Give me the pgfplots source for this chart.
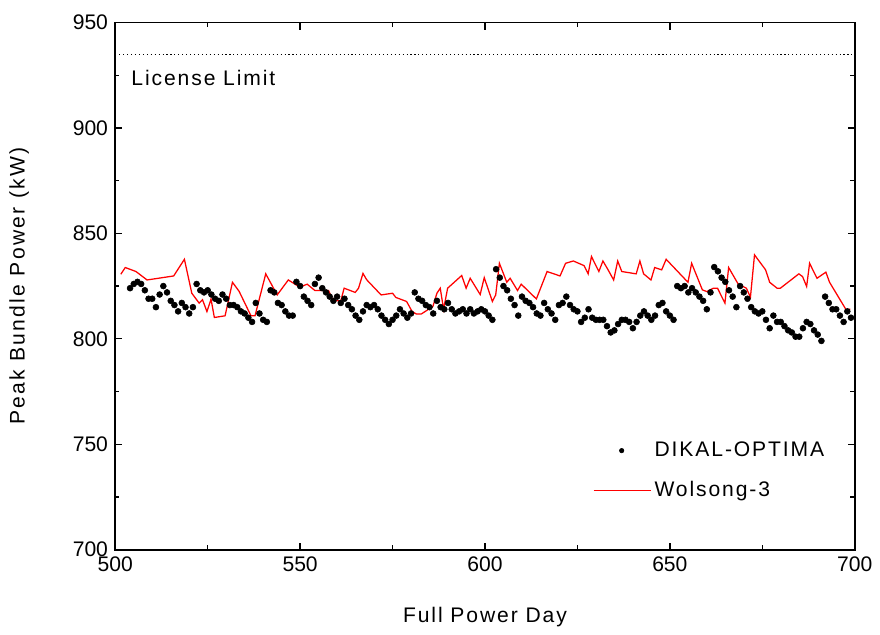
\documentclass[border=0pt]{standalone}
\usepackage{fontspec}
\setmainfont{Liberation Sans}
\newfontfamily\lbl[LetterSpace=9]{Liberation Sans}
\newfontfamily\ylbl[LetterSpace=11]{Liberation Sans}
\usepackage{pgfplots}
\usepackage{pgfplotstable}
\pgfplotsset{compat=1.18}
\pgfplotsset{
  longline/.style={legend image code/.code={\draw[##1, draw=red, line width=0.8pt] (0pt,0pt) -- (41pt,0pt);}},
  dotimg/.style={legend image code/.code={\fill[black] (20pt,0pt) circle (1.6pt);}},
}

% DIKAL-OPTIMA points
\pgfplotstableread{
day kw
504 824
505 826
506 827
507 826
508 823
509 819
510 819
511 815
512 821
513 825
514 822
515 818
516 816
517 813
518 817
519 815
520 812
521 815
522 826
523 823
524 822
525 823
526 821
527 819
528 818
529 821
530 819
531 816
532 816
533 815
534 813
535 812
536 810
537 808
538 817
539 812
540 809
541 808
542 823
543 822
544 817
545 816
546 813
547 811
548 811
549 827
550 825
551 820
552 818
553 816
554 826
555 829
556 824
557 822
558 820
559 818
560 820
561 817
562 819
563 816
564 814
565 811
566 809
567 813
568 816
569 815
570 816
571 814
572 811
573 809
574 807
575 809
576 811
577 814
578 812
579 810
580 812
581 822
582 819
583 818
584 816
585 815
586 812
587 818
588 815
589 814
590 817
591 814
592 812
593 813
594 814
595 812
596 814
597 812
598 813
599 814
600 813
601 811
602 809
603 833
604 829
605 825
606 823
607 819
608 816
609 811
610 820
611 818
612 817
613 815
614 812
615 811
616 817
617 814
618 812
619 809
620 816
621 817
622 820
623 816
624 814
625 813
626 808
627 810
628 814
629 810
630 809
631 809
632 809
633 806
634 803
635 804
636 807
637 809
638 809
639 808
640 805
641 808
642 811
643 813
644 811
645 809
646 811
647 816
648 817
649 813
650 811
651 809
652 825
653 824
654 825
655 822
656 824
657 822
658 820
659 818
660 814
661 822
662 834
663 832
664 829
665 827
666 823
667 820
668 815
669 825
670 822
671 819
672 815
673 813
674 812
675 813
676 809
677 805
678 811
679 808
680 808
681 806
682 804
683 803
684 801
685 801
686 805
687 808
688 807
689 804
690 802
691 799
692 820
693 817
694 814
695 814
696 811
697 808
698 813
699 810
}\dikal

\begin{document}
\fontsize{15}{18}\selectfont
\begin{tikzpicture}
\begin{axis}[
  scale only axis,
  width=526pt, height=375pt,
  xmin=500, xmax=700, ymin=700, ymax=950,
  xtick={500,550,...,700}, ytick={700,750,...,950},
  minor tick num=1,
  tick align=inside,
  major tick length=5pt, minor tick length=3pt,
  axis line style={line width=1.2pt},
  every tick/.style={black, line width=1pt},
  tick label style={font=\fontsize{15}{18}\selectfont},
  /pgf/number format/assume math mode=true,
  /pgf/number format/1000 sep={},
  xlabel={\lbl Full Power Day},
  ylabel={\ylbl Peak Bundle Power (kW)},
  xlabel style={at={(axis description cs:0.5,-0.127)}, anchor=center},
  ylabel style={at={(axis description cs:-0.13,0.5)}, anchor=center},
  legend cell align=left,
  legend style={draw=none, fill=none, at={(axis description cs:0.64,0.216)},
    anchor=north west, row sep=11.5pt, font=\lbl},
]
\addplot[only marks, mark=*, mark size=2.1pt, black, dotimg]
  table[x=day, y=kw] {\dikal};
\addlegendentry{DIKAL-OPTIMA}
\addplot[red, line width=0.9pt, mark=none, longline]
  coordinates {
(501.5,830.6) (502.7,833.8) (505.6,831.9) (508.6,827.9) (515.8,829.8)
(518.7,837.7) (520.7,821.6) (522.7,816.9) (523.6,818.5) (524.8,812.9)
(525.9,818.8) (526.8,810.1) (529.7,810.9) (531.7,826.8) (533.5,822.5)
(536.7,810.9) (537.8,810.9) (540.7,830.8) (543.8,820.8) (546.8,827.9)
(549.9,824.5) (551.9,825.9) (554.0,822.9) (557.7,822.9) (558.9,818)
(561.0,818) (561.9,824.0) (564.9,822) (565.8,824.0) (567.0,831)
(568.0,828) (571.9,820.8) (575.0,821.6) (575.9,819.6) (578.8,817.7)
(580.3,812.9) (581.4,811.8) (582.8,811.8) (585.9,815.3) (587.0,821.6)
(587.9,824.0) (588.8,814) (589.9,824.0) (593.7,830) (594.9,824)
(596.0,828.7) (598.7,821) (599.8,829) (602.0,817.7) (602.9,820.8)
(603.9,835.8) (605.9,826.8) (606.8,828.7) (608.8,822.9) (609.8,825.9)
(613.9,818.9) (616.8,831.9) (620.3,829.8) (621.8,835.8) (623.9,836.9)
(626.8,834.7) (627.9,830.8) (628.8,839.0) (630.8,831.9) (631.9,836.9)
(633.2,833) (634.8,827.9) (635.9,836.9) (637.0,831.9) (640.9,830.8)
(641.9,836.9) (642.9,830.8) (644.9,827.9) (645.9,833.8) (647.8,832.7)
(649.0,837.7) (654.9,826.8) (655.9,835.8) (658.8,823.2) (660.0,822.4)
(661.8,824.0) (662.9,824.0) (664.9,816.9) (665.9,833.8) (668.5,825.9)
(670.7,824.0) (671.8,819.7) (672.9,839.8) (675.9,832.7) (677.0,826.8)
(679.0,824.0) (679.9,824.0) (684.9,830.8) (685.9,829.5) (687.0,824.8)
(687.8,835.8) (689.8,828.7) (692.2,831.6) (693.2,826.8) (697.7,813.7)
(698.8,814.1)
  };
\addlegendentry{Wolsong-3}
\addplot[black, dotted, line width=0.8pt, forget plot] coordinates {(500,935) (700,935)};
\node[anchor=west, inner sep=0pt, font=\lbl] at (axis cs:504.3,923.5) {License Limit};
\end{axis}
\path (current axis.south west) ++(-82pt,-60pt);
\path (current axis.north east) ++(18pt,16pt);
\end{tikzpicture}
\end{document}
